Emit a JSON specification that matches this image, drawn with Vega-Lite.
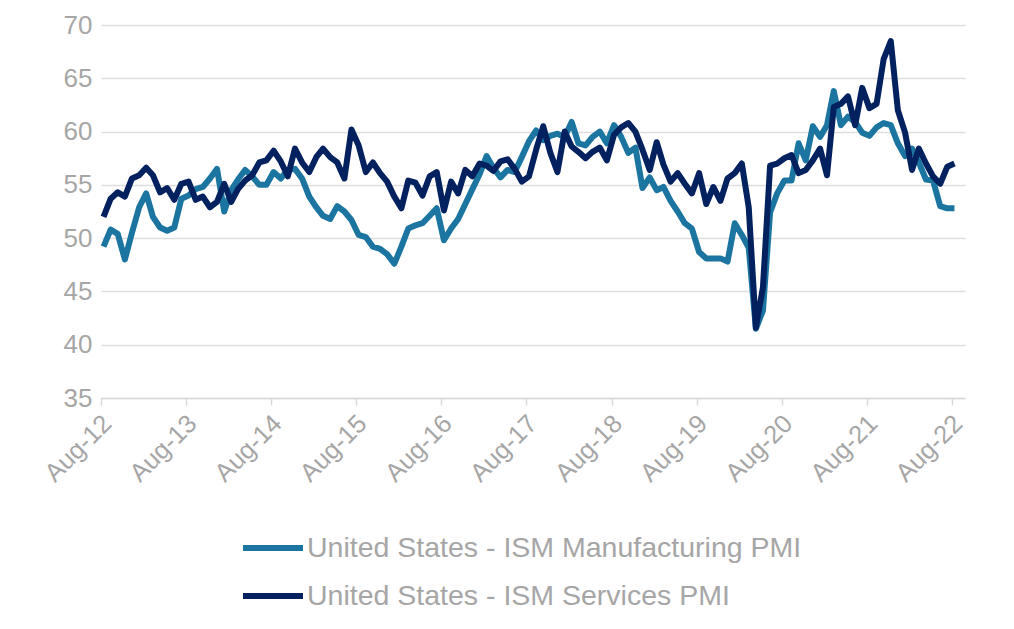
{
  "$schema": "https://vega.github.io/schema/vega-lite/v6.json",
  "width": 864,
  "height": 373,
  "autosize": {"type": "none"},
  "padding": {"left": 101, "top": 25, "right": 49, "bottom": 231},
  "background": "white",
  "config": {
    "view": {"stroke": null},
    "font": "Liberation Sans",
    "axis": {"labelFont": "Liberation Sans"},
    "legend": {"labelFont": "Liberation Sans"}
  },
  "data": {
    "values": [
      {"date": "2012-08", "manufacturing": 49.2, "services": 52.0},
      {"date": "2012-09", "manufacturing": 50.8, "services": 53.7},
      {"date": "2012-10", "manufacturing": 50.4, "services": 54.3},
      {"date": "2012-11", "manufacturing": 48.0, "services": 53.9},
      {"date": "2012-12", "manufacturing": 50.5, "services": 55.6},
      {"date": "2013-01", "manufacturing": 52.9, "services": 55.9},
      {"date": "2013-02", "manufacturing": 54.2, "services": 56.6},
      {"date": "2013-03", "manufacturing": 52.0, "services": 55.9},
      {"date": "2013-04", "manufacturing": 51.0, "services": 54.3},
      {"date": "2013-05", "manufacturing": 50.7, "services": 54.7},
      {"date": "2013-06", "manufacturing": 51.0, "services": 53.6},
      {"date": "2013-07", "manufacturing": 53.7, "services": 55.1},
      {"date": "2013-08", "manufacturing": 54.0, "services": 55.3},
      {"date": "2013-09", "manufacturing": 54.6, "services": 53.6},
      {"date": "2013-10", "manufacturing": 54.8, "services": 53.9},
      {"date": "2013-11", "manufacturing": 55.6, "services": 52.9},
      {"date": "2013-12", "manufacturing": 56.5, "services": 53.4},
      {"date": "2014-01", "manufacturing": 52.5, "services": 55.1},
      {"date": "2014-02", "manufacturing": 54.5, "services": 53.4},
      {"date": "2014-03", "manufacturing": 55.5, "services": 54.6},
      {"date": "2014-04", "manufacturing": 56.4, "services": 55.4},
      {"date": "2014-05", "manufacturing": 55.8, "services": 55.9},
      {"date": "2014-06", "manufacturing": 55.0, "services": 57.1},
      {"date": "2014-07", "manufacturing": 55.0, "services": 57.3},
      {"date": "2014-08", "manufacturing": 56.2, "services": 58.2},
      {"date": "2014-09", "manufacturing": 55.6, "services": 57.2},
      {"date": "2014-10", "manufacturing": 56.4, "services": 55.8},
      {"date": "2014-11", "manufacturing": 56.5, "services": 58.4},
      {"date": "2014-12", "manufacturing": 55.6, "services": 57.1},
      {"date": "2015-01", "manufacturing": 53.9, "services": 56.2},
      {"date": "2015-02", "manufacturing": 52.9, "services": 57.6},
      {"date": "2015-03", "manufacturing": 52.1, "services": 58.4},
      {"date": "2015-04", "manufacturing": 51.8, "services": 57.6},
      {"date": "2015-05", "manufacturing": 53.0, "services": 57.1},
      {"date": "2015-06", "manufacturing": 52.5, "services": 55.6},
      {"date": "2015-07", "manufacturing": 51.7, "services": 60.2},
      {"date": "2015-08", "manufacturing": 50.3, "services": 58.7},
      {"date": "2015-09", "manufacturing": 50.1, "services": 56.2},
      {"date": "2015-10", "manufacturing": 49.2, "services": 57.1},
      {"date": "2015-11", "manufacturing": 49.0, "services": 56.1},
      {"date": "2015-12", "manufacturing": 48.5, "services": 55.3},
      {"date": "2016-01", "manufacturing": 47.6, "services": 53.9},
      {"date": "2016-02", "manufacturing": 49.2, "services": 52.8},
      {"date": "2016-03", "manufacturing": 50.9, "services": 55.4},
      {"date": "2016-04", "manufacturing": 51.2, "services": 55.2},
      {"date": "2016-05", "manufacturing": 51.4, "services": 54.0},
      {"date": "2016-06", "manufacturing": 52.1, "services": 55.8},
      {"date": "2016-07", "manufacturing": 52.8, "services": 56.2},
      {"date": "2016-08", "manufacturing": 49.8, "services": 52.6},
      {"date": "2016-09", "manufacturing": 50.9, "services": 55.3},
      {"date": "2016-10", "manufacturing": 51.8, "services": 54.2},
      {"date": "2016-11", "manufacturing": 53.2, "services": 56.4},
      {"date": "2016-12", "manufacturing": 54.6, "services": 55.8},
      {"date": "2017-01", "manufacturing": 56.0, "services": 57.0},
      {"date": "2017-02", "manufacturing": 57.7, "services": 56.8},
      {"date": "2017-03", "manufacturing": 56.6, "services": 56.3},
      {"date": "2017-04", "manufacturing": 55.7, "services": 57.2},
      {"date": "2017-05", "manufacturing": 56.4, "services": 57.4},
      {"date": "2017-06", "manufacturing": 56.2, "services": 56.5},
      {"date": "2017-07", "manufacturing": 57.6, "services": 55.3},
      {"date": "2017-08", "manufacturing": 59.1, "services": 55.8},
      {"date": "2017-09", "manufacturing": 60.1, "services": 58.3},
      {"date": "2017-10", "manufacturing": 59.2, "services": 60.5},
      {"date": "2017-11", "manufacturing": 59.6, "services": 58.0},
      {"date": "2017-12", "manufacturing": 59.8, "services": 56.2},
      {"date": "2018-01", "manufacturing": 59.5, "services": 60.0},
      {"date": "2018-02", "manufacturing": 60.9, "services": 58.6},
      {"date": "2018-03", "manufacturing": 58.9, "services": 58.1},
      {"date": "2018-04", "manufacturing": 58.7, "services": 57.5},
      {"date": "2018-05", "manufacturing": 59.5, "services": 58.1},
      {"date": "2018-06", "manufacturing": 60.0, "services": 58.5},
      {"date": "2018-07", "manufacturing": 58.9, "services": 57.3},
      {"date": "2018-08", "manufacturing": 60.6, "services": 59.7},
      {"date": "2018-09", "manufacturing": 59.5, "services": 60.4},
      {"date": "2018-10", "manufacturing": 58.0, "services": 60.8},
      {"date": "2018-11", "manufacturing": 58.5, "services": 60.0},
      {"date": "2018-12", "manufacturing": 54.7, "services": 58.3},
      {"date": "2019-01", "manufacturing": 55.7, "services": 56.4},
      {"date": "2019-02", "manufacturing": 54.5, "services": 59.0},
      {"date": "2019-03", "manufacturing": 54.8, "services": 56.9},
      {"date": "2019-04", "manufacturing": 53.5, "services": 55.3},
      {"date": "2019-05", "manufacturing": 52.5, "services": 56.1},
      {"date": "2019-06", "manufacturing": 51.4, "services": 55.1},
      {"date": "2019-07", "manufacturing": 50.9, "services": 54.2},
      {"date": "2019-08", "manufacturing": 48.7, "services": 56.1},
      {"date": "2019-09", "manufacturing": 48.1, "services": 53.2},
      {"date": "2019-10", "manufacturing": 48.1, "services": 54.8},
      {"date": "2019-11", "manufacturing": 48.1, "services": 53.5},
      {"date": "2019-12", "manufacturing": 47.8, "services": 55.6},
      {"date": "2020-01", "manufacturing": 51.4, "services": 56.1},
      {"date": "2020-02", "manufacturing": 50.3, "services": 57.0},
      {"date": "2020-03", "manufacturing": 49.1, "services": 52.9},
      {"date": "2020-04", "manufacturing": 41.5, "services": 41.6},
      {"date": "2020-05", "manufacturing": 43.2, "services": 45.4},
      {"date": "2020-06", "manufacturing": 52.4, "services": 56.8},
      {"date": "2020-07", "manufacturing": 54.2, "services": 57.0},
      {"date": "2020-08", "manufacturing": 55.4, "services": 57.5},
      {"date": "2020-09", "manufacturing": 55.4, "services": 57.8},
      {"date": "2020-10", "manufacturing": 58.9, "services": 56.1},
      {"date": "2020-11", "manufacturing": 57.3, "services": 56.4},
      {"date": "2020-12", "manufacturing": 60.5, "services": 57.3},
      {"date": "2021-01", "manufacturing": 59.5, "services": 58.4},
      {"date": "2021-02", "manufacturing": 60.6, "services": 55.9},
      {"date": "2021-03", "manufacturing": 63.8, "services": 62.3},
      {"date": "2021-04", "manufacturing": 60.6, "services": 62.6},
      {"date": "2021-05", "manufacturing": 61.4, "services": 63.3},
      {"date": "2021-06", "manufacturing": 60.9, "services": 60.6},
      {"date": "2021-07", "manufacturing": 59.9, "services": 64.1},
      {"date": "2021-08", "manufacturing": 59.6, "services": 62.2},
      {"date": "2021-09", "manufacturing": 60.4, "services": 62.6},
      {"date": "2021-10", "manufacturing": 60.8, "services": 66.8},
      {"date": "2021-11", "manufacturing": 60.6, "services": 68.5},
      {"date": "2021-12", "manufacturing": 58.9, "services": 62.0},
      {"date": "2022-01", "manufacturing": 57.7, "services": 59.9},
      {"date": "2022-02", "manufacturing": 58.4, "services": 56.4},
      {"date": "2022-03", "manufacturing": 57.1, "services": 58.4},
      {"date": "2022-04", "manufacturing": 55.5, "services": 57.0},
      {"date": "2022-05", "manufacturing": 55.4, "services": 55.8},
      {"date": "2022-06", "manufacturing": 53.0, "services": 55.1},
      {"date": "2022-07", "manufacturing": 52.8, "services": 56.7},
      {"date": "2022-08", "manufacturing": 52.8, "services": 57.0}
    ]
  },
  "transform": [
    {"fold": ["manufacturing", "services"], "as": ["series", "value"]}
  ],
  "mark": {"type": "line", "strokeWidth": 6, "strokeJoin": "round", "strokeCap": "butt"},
  "encoding": {
    "x": {
      "field": "date",
      "type": "temporal",
      "timeUnit": "utcyearmonth",
      "bandPosition": 0.35,
      "scale": {
        "type": "utc",
        "domain": [
          {"year": 2012, "month": 8, "date": 1, "utc": true},
          {"year": 2022, "month": 9, "date": 26, "utc": true}
        ]
      },
      "axis": {
        "title": null,
        "values": [
          {"year": 2012, "month": 8, "date": 1, "utc": true},
          {"year": 2013, "month": 8, "date": 1, "utc": true},
          {"year": 2014, "month": 8, "date": 1, "utc": true},
          {"year": 2015, "month": 8, "date": 1, "utc": true},
          {"year": 2016, "month": 8, "date": 1, "utc": true},
          {"year": 2017, "month": 8, "date": 1, "utc": true},
          {"year": 2018, "month": 8, "date": 1, "utc": true},
          {"year": 2019, "month": 8, "date": 1, "utc": true},
          {"year": 2020, "month": 8, "date": 1, "utc": true},
          {"year": 2021, "month": 8, "date": 1, "utc": true},
          {"year": 2022, "month": 8, "date": 1, "utc": true}
        ],
        "format": "%b-%y",
        "grid": false,
        "domainColor": "#D9D9D9",
        "domainWidth": 1.5,
        "tickColor": "#D9D9D9",
        "tickWidth": 1.5,
        "tickSize": 7,
        "labelAngle": -45,
        "labelAlign": "right",
        "labelBaseline": "middle",
        "labelOffset": 6,
        "labelPadding": 14,
        "labelFontSize": 25.5,
        "labelColor": "#A6A6A6",
        "labelOverlap": false,
        "labelFlush": false
      }
    },
    "y": {
      "field": "value",
      "type": "quantitative",
      "scale": {"domain": [35, 70], "nice": false, "zero": false},
      "axis": {
        "title": null,
        "values": [35, 40, 45, 50, 55, 60, 65, 70],
        "grid": true,
        "gridColor": "#DEDEDE",
        "gridWidth": 1.5,
        "domain": false,
        "ticks": false,
        "labelPadding": 9,
        "labelFontSize": 26,
        "labelColor": "#A6A6A6"
      }
    },
    "color": {
      "field": "series",
      "type": "nominal",
      "scale": {"domain": ["manufacturing", "services"], "range": ["#1B75A0", "#03215F"]},
      "legend": {
        "title": null,
        "orient": "none",
        "legendX": 139,
        "legendY": 490,
        "direction": "vertical",
        "padding": 0,
        "symbolType": "stroke",
        "symbolSize": 3600,
        "symbolStrokeWidth": 6,
        "labelOffset": 1,
        "labelFontSize": 28.5,
        "labelColor": "#A6A6A6",
        "labelLimit": 0,
        "rowPadding": -12,
        "labelExpr": "datum.value == 'manufacturing' ? 'United States - ISM Manufacturing PMI' : 'United States - ISM Services PMI'"
      }
    }
  }
}
